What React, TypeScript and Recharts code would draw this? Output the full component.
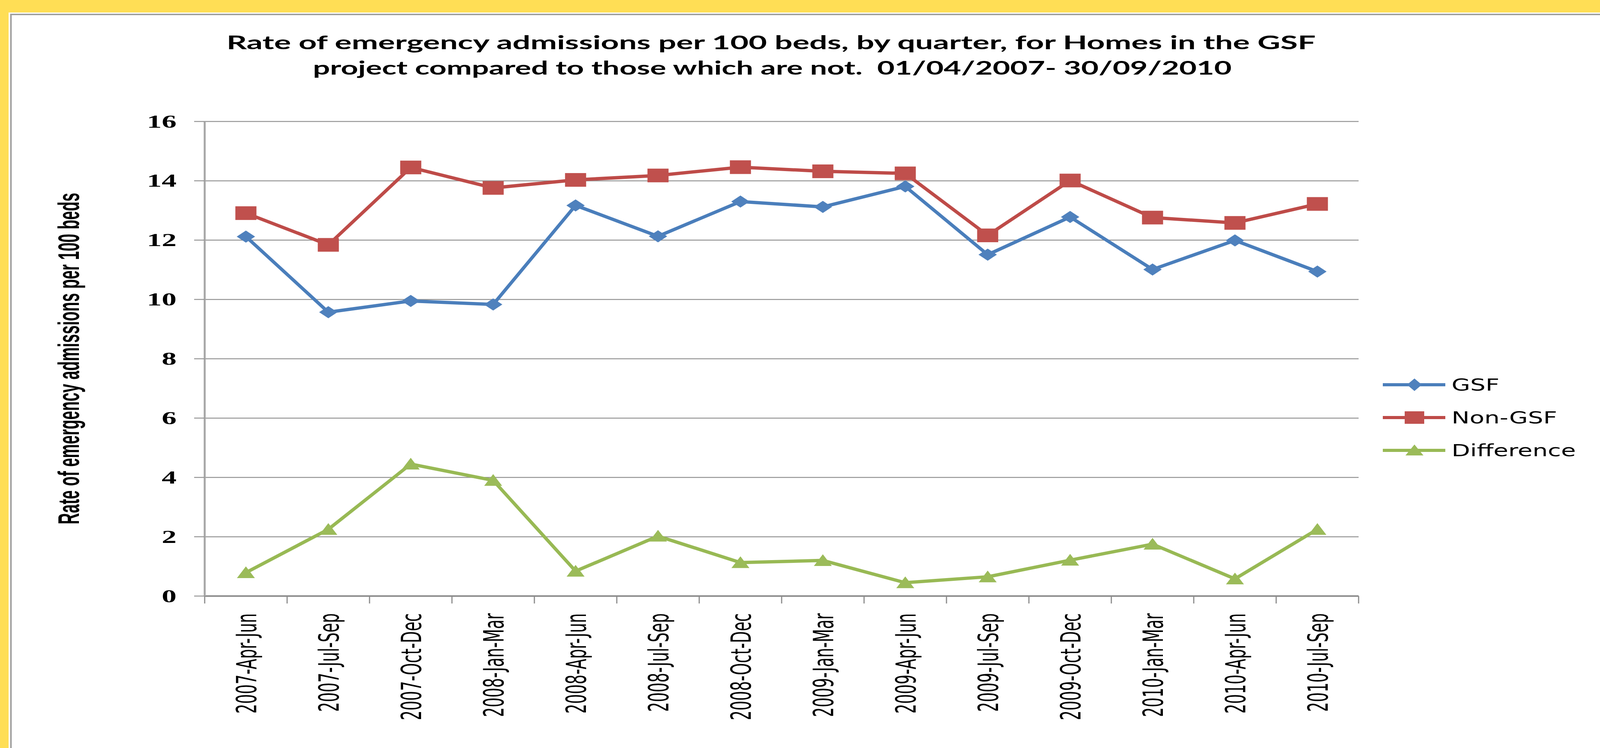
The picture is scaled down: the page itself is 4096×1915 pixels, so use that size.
import React from 'react';
import { LineChart, Line, XAxis, YAxis, CartesianGrid, Legend } from 'recharts';

// ---------- data ----------
const categories = [
  '2007-Apr-Jun', '2007-Jul-Sep', '2007-Oct-Dec', '2008-Jan-Mar',
  '2008-Apr-Jun', '2008-Jul-Sep', '2008-Oct-Dec', '2009-Jan-Mar',
  '2009-Apr-Jun', '2009-Jul-Sep', '2009-Oct-Dec', '2010-Jan-Mar',
  '2010-Apr-Jun', '2010-Jul-Sep',
];
const gsf = [12.12, 9.57, 9.95, 9.83, 13.17, 12.13, 13.30, 13.12, 13.81, 11.51, 12.78, 11.01, 11.99, 10.94];
const nonGsf = [12.91, 11.84, 14.45, 13.76, 14.03, 14.18, 14.46, 14.32, 14.25, 12.16, 14.01, 12.76, 12.58, 13.22];
const difference = [0.79, 2.25, 4.45, 3.9, 0.84, 2.02, 1.13, 1.2, 0.45, 0.65, 1.21, 1.75, 0.58, 2.25];
const yTicks = [0, 2, 4, 6, 8, 10, 12, 14, 16];
const seriesNames = ['GSF', 'Non-GSF', 'Difference'];
const titleLines = [
  'Rate of emergency admissions per 100 beds, by quarter, for Homes in the GSF',
  'project compared to those which are not.  01/04/2007- 30/09/2010',
];
const yAxisTitle = 'Rate of emergency admissions per 100 beds';

const data = categories.map((q, i) => ({
  quarter: q,
  [seriesNames[0]]: gsf[i],
  [seriesNames[1]]: nonGsf[i],
  [seriesNames[2]]: difference[i],
}));

// ---------- layout ----------
const W = 4096;
const H = 1915;
const PLOT_LEFT = 524;
const PLOT_RIGHT = 3478;
const PLOT_TOP = 311;
const PLOT_BOTTOM = 1526;
const BAND_HALF = (PLOT_RIGHT - PLOT_LEFT) / categories.length / 2;

const COLORS: any = {
  GSF: { line: '#4A7EBB', marker: '#4F81BD' },
  'Non-GSF': { line: '#BE4B48', marker: '#C0504D' },
  Difference: { line: '#98B954', marker: '#9BBB59' },
};

const Diamond = (props: any) => {
  const { cx, cy } = props;
  if (cx == null || cy == null) return null;
  const hw = 23.5, hh = 15.5;
  return (
    <polygon
      points={`${cx},${cy - hh} ${cx + hw},${cy} ${cx},${cy + hh} ${cx - hw},${cy}`}
      fill={COLORS.GSF.marker}
    />
  );
};

const Square = (props: any) => {
  const { cx, cy } = props;
  if (cx == null || cy == null) return null;
  return (
    <rect x={cx - 27} y={cy - 17.5} width={54} height={35} fill={COLORS['Non-GSF'].marker} />
  );
};

const Triangle = (props: any) => {
  const { cx, cy } = props;
  if (cx == null || cy == null) return null;
  return (
    <polygon
      points={`${cx},${cy - 16} ${cx + 23},${cy + 14} ${cx - 23},${cy + 14}`}
      fill={COLORS.Difference.marker}
    />
  );
};

const XTick = (props: any) => {
  const { x, y, payload, index } = props;
  const isLast = index === categories.length - 1;
  return (
    <g>
      <line x1={x - BAND_HALF} y1={y} x2={x - BAND_HALF} y2={y + 19} stroke="#8C8C8C" strokeWidth={3} />
      {isLast && (
        <line x1={x + BAND_HALF} y1={y} x2={x + BAND_HALF} y2={y + 19} stroke="#8C8C8C" strokeWidth={3} />
      )}
      <text
        transform={`translate(${x + 26}, ${y + 44}) rotate(-90) scale(0.547, 1)`}
        textAnchor="end"
        fontFamily="'DejaVu Sans', Verdana, sans-serif"
        fontSize={72}
        fill="#000"
      >
        {payload.value}
      </text>
    </g>
  );
};

const YTick = (props: any) => {
  const { x, y, payload } = props;
  return (
    <text
      transform={`translate(${x}, ${y + 15.5}) scale(1.65, 1)`}
      textAnchor="end"
      fontFamily="'Liberation Serif', 'Times New Roman', serif"
      fontWeight={700}
      fontSize={46}
      fill="#000"
    >
      {payload.value}
    </text>
  );
};

const renderLegend = (props: any) => {
  const payload = [...(props.payload || [])].sort(
    (a: any, b: any) => seriesNames.indexOf(a.value) - seriesNames.indexOf(b.value)
  );
  return (
    <svg width={600} height={260} style={{ overflow: 'visible', display: 'block' }}>
      {payload.map((p: any, i: number) => {
        const name = p.value as string;
        const c = COLORS[name] || { line: p.color, marker: p.color };
        const cy = 45 + i * 84;
        const mx = 101;
        let marker = null;
        if (name === 'GSF') {
          marker = (
            <polygon
              points={`${mx},${cy - 16} ${mx + 19},${cy} ${mx},${cy + 16} ${mx - 19},${cy}`}
              fill={c.marker}
            />
          );
        } else if (name === 'Non-GSF') {
          marker = <rect x={mx - 25} y={cy - 16} width={50} height={32} fill={c.marker} />;
        } else {
          marker = (
            <polygon
              points={`${mx},${cy - 15} ${mx + 23},${cy + 13} ${mx - 23},${cy + 13}`}
              fill={c.marker}
            />
          );
        }
        return (
          <g key={name}>
            <line x1={20} y1={cy} x2={180} y2={cy} stroke={c.line} strokeWidth={8} />
            {marker}
            <text
              transform={`translate(196, ${cy + 15}) scale(1.47, 1)`}
              fontFamily="'DejaVu Sans', Verdana, sans-serif"
              fontSize={42}
              fill="#000"
            >
              {name}
            </text>
          </g>
        );
      })}
    </svg>
  );
};

export default function App() {
  return (
    <div style={{ position: 'relative', width: W, height: H, background: '#fff', overflow: 'hidden' }}>
      <style>{`html,body{margin:0;padding:0;background:#fff;}`}</style>
      <svg width={W} height={H} style={{ position: 'absolute', left: 0, top: 0 }}>
        <rect x={0} y={0} width={W} height={32} fill="#FFDE55" />
        <rect x={0} y={0} width={22} height={H} fill="#FFDE55" />
        <line x1={26} y1={37} x2={W} y2={37} stroke="#999" strokeWidth={3.5} />
        <line x1={28} y1={37} x2={28} y2={H} stroke="#A0A0A0" strokeWidth={4} />
        <text
          x={580}
          y={126}
          textLength={2788}
          lengthAdjust="spacingAndGlyphs"
          fontFamily="Lato, 'Open Sans', sans-serif"
          fontWeight={700}
          fontSize={48}
          fill="#000"
          style={{ whiteSpace: 'pre' }}
        >
          {titleLines[0]}
        </text>
        <text
          x={801}
          y={191}
          textLength={2352}
          lengthAdjust="spacingAndGlyphs"
          fontFamily="Lato, 'Open Sans', sans-serif"
          fontWeight={700}
          fontSize={48}
          fill="#000"
          style={{ whiteSpace: 'pre' }}
        >
          {titleLines[1]}
        </text>
        <text
          transform="translate(202, 918) rotate(-90) scale(0.529, 1)"
          x={0}
          y={0}
          textAnchor="middle"
          fontFamily="'Liberation Sans', Arial, sans-serif"
          fontWeight={700}
          fontSize={76}
          fill="#000"
        >
          {yAxisTitle}
        </text>
      </svg>
      <div style={{ position: 'absolute', left: 0, top: 0 }}>
        <LineChart
          width={W}
          height={H}
          data={data}
          margin={{ top: PLOT_TOP, right: W - PLOT_RIGHT, bottom: 0, left: 0 }}
        >
          <CartesianGrid vertical={false} stroke="#969696" strokeWidth={2.5} />
          <XAxis
            dataKey="quarter"
            interval={0}
            height={H - PLOT_BOTTOM}
            padding={{ left: BAND_HALF, right: BAND_HALF }}
            tickLine={false}
            tickSize={0}
            tickMargin={0}
            axisLine={{ stroke: '#8C8C8C', strokeWidth: 4 }}
            tick={<XTick />}
          />
          <YAxis
            domain={[0, 16]}
            ticks={yTicks}
            interval={0}
            width={PLOT_LEFT}
            tickSize={27}
            tickMargin={45}
            tickLine={{ stroke: '#969696', strokeWidth: 2.5 }}
            axisLine={{ stroke: '#A6A6A6', strokeWidth: 5 }}
            tick={<YTick />}
          />
          <Legend
            layout="vertical"
            align="center"
            verticalAlign="middle"
            content={renderLegend}
            wrapperStyle={{ position: 'absolute', left: 3520, top: 940, width: 600, height: 260 }}
          />
          <Line
            dataKey={seriesNames[0]}
            stroke={COLORS.GSF.line}
            strokeWidth={8.5}
            dot={<Diamond />}
            activeDot={false}
            isAnimationActive={false}
          />
          <Line
            dataKey={seriesNames[1]}
            stroke={COLORS['Non-GSF'].line}
            strokeWidth={8.5}
            dot={<Square />}
            activeDot={false}
            isAnimationActive={false}
          />
          <Line
            dataKey={seriesNames[2]}
            stroke={COLORS.Difference.line}
            strokeWidth={8.5}
            dot={<Triangle />}
            activeDot={false}
            isAnimationActive={false}
          />
        </LineChart>
      </div>
    </div>
  );
}
